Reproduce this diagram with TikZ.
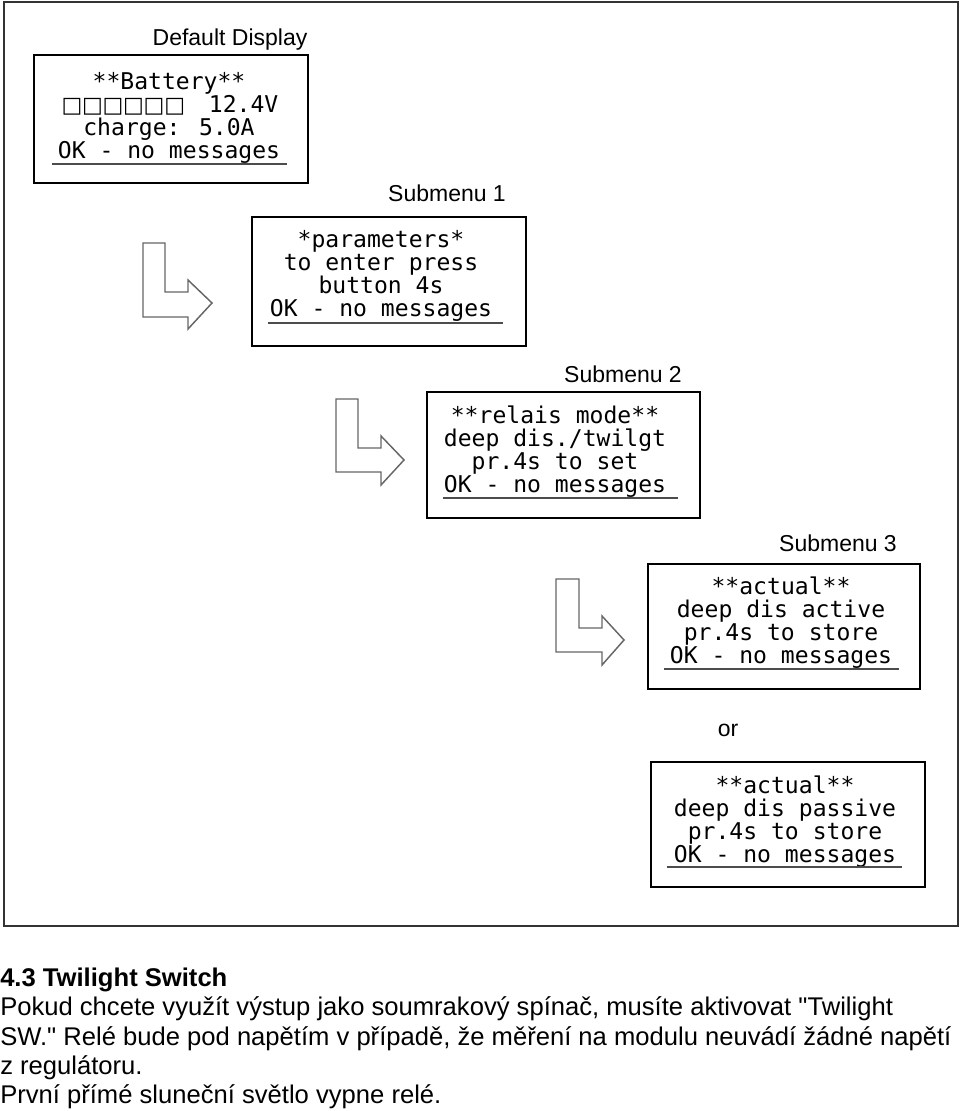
\documentclass[tikz,border=0pt]{standalone}
\usepackage{fontspec}
\setmainfont{Liberation Sans}[Ligatures=TeXOff]
\newfontfamily\lcdfont{DejaVu Sans Mono}
\newfontfamily\sqfont{DejaVu Sans}
\newcommand\lcdsq{\makebox[15.4pt]{\sqfont\fontsize{16.5}{17}\selectfont □}}
\tikzset{
  lcd/.style={font=\lcdfont\fontsize{17.3}{20}\selectfont, inner sep=0pt, anchor=base},
  ttl/.style={font=\fontsize{17.25}{20}\selectfont, inner sep=0pt, anchor=base},
  body/.style={font=\fontsize{19.2}{22}\selectfont, inner sep=0pt, anchor=base west},
  lcdbox/.style={draw=black, line width=1.5pt, inner sep=0pt},
  uline/.style={draw=black!70, line width=1.1pt},
  bendarrow/.style={draw=black!60, line width=1.1pt, line join=miter},
  outer/.style={draw=black!80, line width=1.4pt}
}
\begin{document}
\begin{tikzpicture}[x=0.75pt, y=-0.75pt]
\useasboundingbox (0,0) rectangle (960,1111);
\draw[outer] (4,2) rectangle (958,926);

% Default display
\node[ttl] (t0) at (230,45) {Default Display};
\node[lcdbox, minimum width=205.5pt, minimum height=96pt] (b0) at (171,119) {};
\node[lcd] (b0l1) at (169,89.6) {**Battery**};
\node[lcd] (b0l2) at (170,112.4) {\lcdsq\lcdsq\lcdsq\lcdsq\lcdsq\lcdsq\hspace{18pt}12.4V};
\node[lcd] (b0l3) at (169,135.2) {charge: 5.0A};
\node[lcd] (b0l4) at (169,158) {OK - no messages};
\draw[uline] (52,164) -- (287,164);

% Submenu 1
\node[ttl] (t1) at (447,201) {Submenu 1};
\node[lcdbox, minimum width=205.5pt, minimum height=96.75pt] (b1) at (389,281.5) {};
\node[lcd] (b1l1) at (381,247) {*parameters*};
\node[lcd] (b1l2) at (381,270) {to enter press};
\node[lcd] (b1l3) at (381,293) {button 4s};
\node[lcd] (b1l4) at (381,316) {OK - no messages};
\draw[uline] (268,323) -- (503,323);

% Submenu 2
\node[ttl] (t2) at (623,382) {Submenu 2};
\node[lcdbox, minimum width=204.75pt, minimum height=94.5pt] (b2) at (563.5,455) {};
\node[lcd] (b2l1) at (555,423) {**relais mode**};
\node[lcd] (b2l2) at (555,446) {deep dis./twilgt};
\node[lcd] (b2l3) at (555,469) {pr.4s to set};
\node[lcd] (b2l4) at (555,492) {OK - no messages};
\draw[uline] (443,498) -- (678,498);

% Submenu 3
\node[ttl] (t3) at (838,551) {Submenu 3};
\node[lcdbox, minimum width=204pt, minimum height=93.75pt] (b3) at (784,626.5) {};
\node[lcd] (b3l1) at (781,594) {**actual**};
\node[lcd] (b3l2) at (781,617) {deep dis active};
\node[lcd] (b3l3) at (781,640) {pr.4s to store};
\node[lcd] (b3l4) at (781,663) {OK - no messages};
\draw[uline] (664,669) -- (899,669);

\node[ttl] (or) at (728,736) {or};

% Alternative
\node[lcdbox, minimum width=205.5pt, minimum height=93.75pt] (b4) at (788,824.5) {};
\node[lcd] (b4l1) at (785,793) {**actual**};
\node[lcd] (b4l2) at (785,816) {deep dis passive};
\node[lcd] (b4l3) at (785,839) {pr.4s to store};
\node[lcd] (b4l4) at (785,862) {OK - no messages};
\draw[uline] (667,867) -- (902,867);

% bent arrows
\draw[bendarrow] (143,243) -- (165,243) -- (165,292) -- (188,292) -- (188,280) -- (212,303) -- (188,329) -- (188,317) -- (143,317) -- cycle;
\draw[bendarrow] (336,399) -- (358,399) -- (358,448) -- (381,448) -- (381,436) -- (404,460) -- (381,485) -- (381,472) -- (336,472) -- cycle;
\draw[bendarrow] (556,579) -- (579,579) -- (579,628) -- (602,628) -- (602,616) -- (624,640) -- (602,665) -- (602,652) -- (556,652) -- cycle;

% text below
\node[body, font=\bfseries\fontsize{19.2}{22}\selectfont] (h) at (0,986) {4.3 Twilight Switch};
\node[body] (p1) at (0,1015) {Pokud chcete využít výstup jako soumrakový spínač, musíte aktivovat "Twilight};
\node[body] (p2) at (0,1045) {SW." Relé bude pod napětím v případě, že měření na modulu neuvádí žádné napětí};
\node[body] (p3) at (0,1074) {z regulátoru.};
\node[body] (p4) at (0,1103) {První přímé sluneční světlo vypne relé.};
\end{tikzpicture}
\end{document}
